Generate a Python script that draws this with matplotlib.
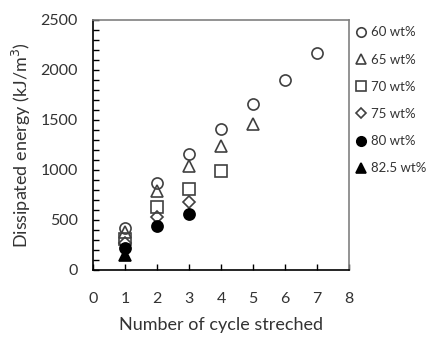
import matplotlib
matplotlib.use('Agg')
import matplotlib.pyplot as plt
from matplotlib.ticker import MultipleLocator

plt.rcParams['font.family'] = ['Lato', 'DejaVu Sans']

# dissipated energy (kJ/m3) vs number of stretch cycles, per filler content
cycles_60 = [1, 2, 3, 4, 5, 6, 7]
energy_60 = [415, 870, 1160, 1410, 1660, 1900, 2170]
cycles_65 = [1, 2, 3, 4, 5]
energy_65 = [380, 790, 1040, 1240, 1460]
cycles_70 = [1, 2, 3, 4]
energy_70 = [310, 630, 810, 990]
cycles_75 = [1, 2, 3]
energy_75 = [270, 530, 680]
cycles_80 = [1, 2, 3]
energy_80 = [220, 440, 555]
cycles_825 = [1]
energy_825 = [145]

series = [
    (cycles_60, energy_60, 'o', 'none', '60 wt%'),
    (cycles_65, energy_65, '^', 'none', '65 wt%'),
    (cycles_70, energy_70, 's', 'none', '70 wt%'),
    (cycles_75, energy_75, 'D', 'none', '75 wt%'),
    (cycles_80, energy_80, 'o', 'black', '80 wt%'),
    (cycles_825, energy_825, '^', 'black', '82.5 wt%'),
]

fig = plt.figure(figsize=(4.31, 3.37), dpi=100)
ax = fig.add_axes([0.216, 0.199, 0.594, 0.742])

for xs, ys, m, fc, lab in series:
    ms = 6 if m == 'D' else 8
    ec = 'black' if fc == 'black' else '#404040'
    ax.plot(xs, ys, linestyle='none', marker=m, markersize=ms,
            markerfacecolor=fc, markeredgecolor=ec, markeredgewidth=1.2,
            label=lab, clip_on=False)

ax.set_xlim(0, 8)
ax.set_ylim(0, 2500)
ax.xaxis.set_major_locator(MultipleLocator(1))
ax.yaxis.set_major_locator(MultipleLocator(500))
ax.yaxis.set_minor_locator(MultipleLocator(100))
ax.tick_params(axis='both', which='both', direction='in', length=4,
               width=1, colors='black', labelcolor='#333333', labelsize=11.5)
ax.tick_params(axis='x', pad=16)
ax.tick_params(axis='y', pad=11)

for s in ['left', 'bottom']:
    ax.spines[s].set_color('black')
    ax.spines[s].set_linewidth(1.2)
for s in ['top', 'right']:
    ax.spines[s].set_color('#808080')
    ax.spines[s].set_linewidth(1.2)

ax.set_xlabel('Number of cycle streched', fontsize=13, color='#333333', labelpad=8)
ax.set_ylabel('Dissipated energy (kJ/m$^3$)', fontsize=13, color='#333333', labelpad=5)

leg = ax.legend(loc='upper left', bbox_to_anchor=(0.995, 1.0), frameon=False,
                handletextpad=0.25, handlelength=1.0, labelspacing=1.15,
                fontsize=9.5, borderaxespad=0.2, borderpad=0.3, markerscale=0.85)
for t in leg.get_texts():
    t.set_color('#333333')

fig.savefig('out.png', dpi=100)
